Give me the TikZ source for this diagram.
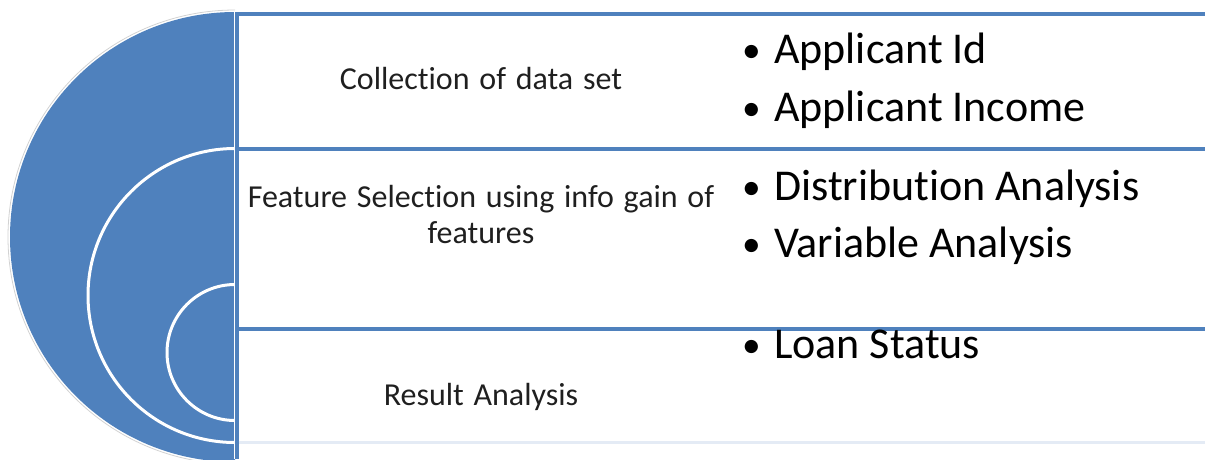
\documentclass[tikz,border=0pt]{standalone}
\usepackage{fontspec}
\setmainfont{Carlito}[Ligatures=NoCommon]
\newfontfamily\labelfont{Carlito}[Ligatures=NoCommon, WordSpace=1.35]
\definecolor{accblue}{HTML}{4F81BD}
\definecolor{faintline}{HTML}{E4EBF5}
\begin{document}
\begin{tikzpicture}[x=1pt,y=-1pt,
  ring/.style={fill=accblue, draw=white, line width=3pt},
  bandline/.style={draw=accblue, line width=4pt},
  steplabel/.style={font=\labelfont\fontsize{32}{36}\selectfont, inner sep=0pt, anchor=base, align=center, text=black!88},
  bul/.style={font=\fontsize{44}{50}\selectfont, inner sep=0pt, anchor=base west, text=black}]
\useasboundingbox (0,0) rectangle (1205,459);
% nested half circles
\begin{scope}
  \clip (0,0) rectangle (235,459);
  \draw[gray!35, line width=0.8pt] (235,237) circle[radius=227];
  \fill[accblue] (235,237) circle[radius=225];
  \draw[ring] (235,295.5) circle[radius=147];
  \draw[ring] (235,352.5) circle[radius=68];
\end{scope}
\draw[white, line width=0.8pt] (234,12) -- (234,459);
% bands
\draw[bandline] (236.5,12) -- (236.5,459);
\draw[bandline] (235,13.5) -- (1205,13.5);
\draw[bandline] (235,148.5) -- (1205,148.5);
\draw[bandline] (235,328.5) -- (1205,328.5);
\draw[faintline, line width=3pt] (238.5,442.5) -- (1205,442.5);
% labels
\node[steplabel] (collect) at (481,89) {Collection of data set};
\node[steplabel] (feature) at (481,243) {Feature Selection using info gain of\\features};
\node[steplabel] (result) at (481,405) {Result Analysis};
% bullets
\newcommand\bulmark{\makebox[32pt][l]{\raisebox{1pt}{\scalebox{0.85}{•}}}}
\node[bul] (b1) at (742,63) {\bulmark Applicant Id};
\node[bul] (b2) at (742,121) {\bulmark Applicant Income};
\node[bul] (b3) at (742,200) {\bulmark Distribution Analysis};
\node[bul] (b4) at (742,257) {\bulmark Variable Analysis};
\node[bul] (b5) at (742,358) {\bulmark Loan Status};
\end{tikzpicture}
\end{document}
